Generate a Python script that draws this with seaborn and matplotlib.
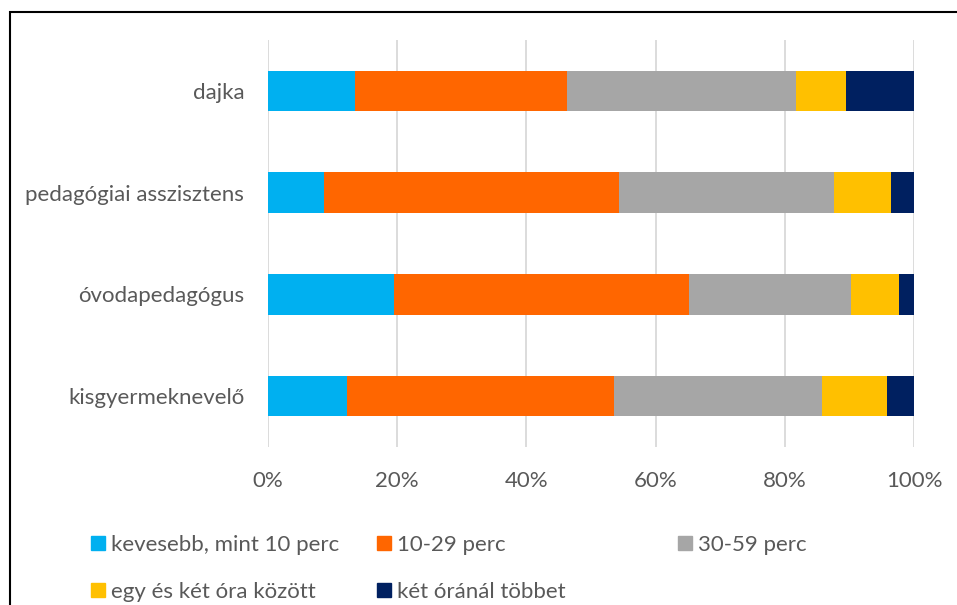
import matplotlib.pyplot as plt
import matplotlib.patches as mpatches
import pandas as pd
import numpy as np
import seaborn as sns

# data (percent of answers per group)
groups = ['dajka', 'pedagógiai asszisztens', 'óvodapedagógus', 'kisgyermeknevelő']
series = ['kevesebb, mint 10 perc', '10-29 perc', '30-59 perc',
          'egy és két óra között', 'két óránál többet']
less_10 = [13.5, 8.7, 19.5, 12.2]
min_10_29 = [32.8, 45.7, 45.7, 41.3]
min_30_59 = [35.5, 33.2, 25.1, 32.3]
hour_1_2 = [7.6, 8.8, 7.4, 10.0]
more_2h = [10.6, 3.6, 2.3, 4.2]
colors = ['#00B0F0', '#FF6600', '#A6A6A6', '#FFC000', '#002060']

df = pd.DataFrame({'csoport': groups, series[0]: less_10, series[1]: min_10_29,
                   series[2]: min_30_59, series[3]: hour_1_2, series[4]: more_2h})
cum = df[series].cumsum(axis=1)
cum = cum.div(cum[series[-1]], axis=0) * 100
cum['csoport'] = groups

sns.set_style('white')
plt.rcParams['font.family'] = ['Lato', 'DejaVu Sans']
text_col = '#595959'

fig = plt.figure(figsize=(9.57, 6.05), dpi=100)
ax = fig.add_axes([0.2800, 0.2612, 0.6751, 0.6727])

# stacked bars: draw cumulative totals from the largest down
for s, c in zip(series[::-1], colors[::-1]):
    sns.barplot(data=cum, x=s, y='csoport', order=groups, color=c,
                width=0.4, linewidth=0, saturation=1, ax=ax)

ax.set_xlim(0, 100)
ax.set_ylim(3.5, -0.5)
ax.set_xticks(np.arange(0, 101, 20))
ax.set_xticklabels([f'{t}%' for t in range(0, 101, 20)])
ax.xaxis.grid(True, color='#D9D9D9', linewidth=1.3)
ax.set_axisbelow(True)
ax.set_xlabel('')
ax.set_ylabel('')
for sp in ax.spines.values():
    sp.set_visible(False)
ax.tick_params(axis='x', length=0, pad=17, labelsize=16, labelcolor=text_col)
ax.tick_params(axis='y', length=0, pad=17, labelsize=16, labelcolor=text_col)

# legend in three columns, row-major order like the original
handles = [mpatches.Patch(color=c) for c in colors]
cols = [([0, 3], 0.0951), ([1, 4], 0.3939), ([2], 0.7085)]
for idx, xpos in cols:
    fig.legend([handles[i] for i in idx], [series[i] for i in idx],
               loc='upper left', bbox_to_anchor=(xpos, 1 - 535 / 605),
               frameon=False, fontsize=16, labelcolor=text_col,
               handlelength=0.62, handleheight=0.62, handletextpad=0.3,
               labelspacing=1.2, borderpad=0, borderaxespad=0)

# outer frame (left and top edges visible)
fig.patches.append(mpatches.Rectangle((10 / 957, -0.5), 2, 1.5 - 11.5 / 605,
                                      transform=fig.transFigure, fill=False,
                                      edgecolor='black', linewidth=1.5))

fig.savefig('out.png', dpi=100)
